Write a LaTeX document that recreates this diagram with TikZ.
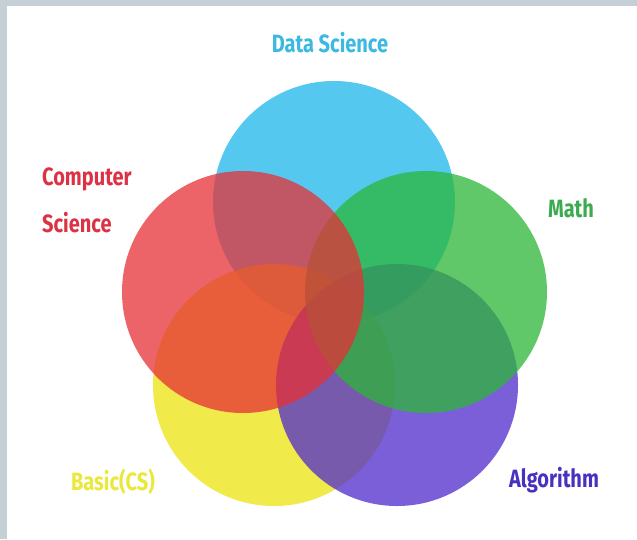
\documentclass[tikz,border=0pt]{standalone}
\usepackage{fontspec}
\newfontfamily\lblfont[FakeStretch=0.80]{Fira Sans}
\definecolor{framegray}{RGB}{197,208,214}
\definecolor{cblue}{RGB}{84,200,238}
\definecolor{cred}{RGB}{230,48,54}
\definecolor{cgreen}{RGB}{43,182,56}
\definecolor{cyellow}{RGB}{235,228,15}
\definecolor{cpurple}{RGB}{79,42,204}
\definecolor{tblue}{RGB}{60,185,225}
\definecolor{tred}{RGB}{220,50,70}
\definecolor{tgreen}{RGB}{60,170,80}
\definecolor{tyellow}{RGB}{235,232,60}
\definecolor{tpurple}{RGB}{70,50,190}
\tikzset{
  venn/.style={circle, minimum size=242pt, inner sep=0pt, fill opacity=0.75, draw=none},
  lbl/.style={inner sep=0pt, font=\lblfont\bfseries\fontsize{25}{29}\selectfont},
}
\begin{document}
\begin{tikzpicture}[x=1pt,y=-1pt]
\useasboundingbox (0,0) rectangle (637,539);
\fill[framegray] (0,0) rectangle (637,539);
\fill[white] (7,6) rectangle (637,539);
% circles
\node[venn, fill=cblue, fill opacity=1] (ds) at (334,202) {};
\node[venn, fill=cyellow] (bc) at (274,385) {};
\node[venn, fill=cpurple] (al) at (397,385) {};
\node[venn, fill=cgreen] (ma) at (426,292) {};
\node[venn, fill=cred] (cs) at (243,292) {};
% labels
\node[lbl, text=tblue, anchor=base] (tds) at (330,52) {Data Science};
\node[lbl, text=tred, anchor=base west] (tcs1) at (42,185) {Computer};
\node[lbl, text=tred, anchor=base west] (tcs2) at (42,232) {Science};
\node[lbl, text=tgreen, anchor=base] (tma) at (571,217) {Math};
\node[lbl, text=tyellow, anchor=base] (tbc) at (113,490) {Basic(CS)};
\node[lbl, text=tpurple, anchor=base] (tal) at (554,487) {Algorithm};
\end{tikzpicture}
\end{document}
